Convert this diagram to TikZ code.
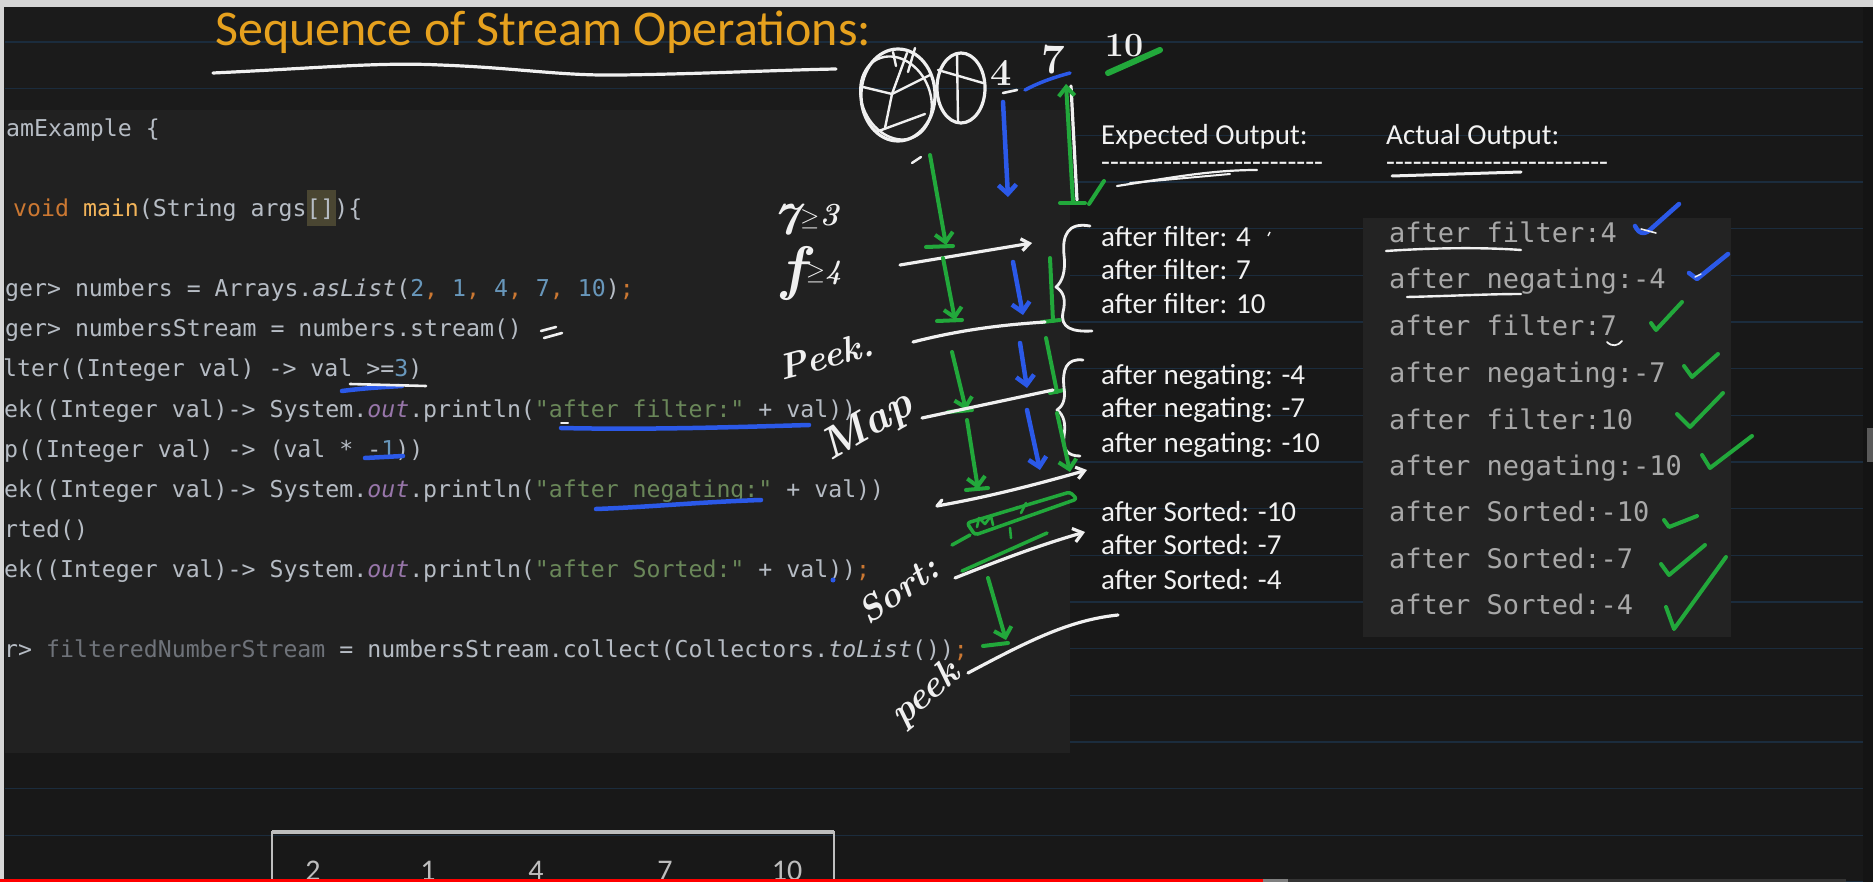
\documentclass[tikz,border=0pt]{standalone}
\usepackage{fontspec}
\setmonofont{DejaVu Sans Mono}
\newfontfamily\cali{Carlito}
\usetikzlibrary{arrows.meta}
\definecolor{bg}{HTML}{181818}
\definecolor{topbg}{HTML}{1B1B1B}
\definecolor{edgec}{HTML}{141414}
\definecolor{panel}{HTML}{212121}
\definecolor{outbox}{HTML}{232323}
\definecolor{nline}{HTML}{1B2C3D}
\definecolor{titlec}{HTML}{E6A11E}
\definecolor{codefg}{HTML}{B6BCC4}
\definecolor{kwc}{HTML}{CC7832}
\definecolor{methc}{HTML}{F2B45A}
\definecolor{numc}{HTML}{6897BB}
\definecolor{strc}{HTML}{6A8759}
\definecolor{fldc}{HTML}{9876AA}
\definecolor{unusedc}{HTML}{6F737A}
\definecolor{brk}{HTML}{4A4632}
\definecolor{hw}{HTML}{F0F0F0}
\definecolor{hg}{HTML}{22A83B}
\definecolor{hb}{HTML}{2B59E8}
\definecolor{outc}{HTML}{A8A8A8}
\definecolor{expc}{HTML}{F2F2F2}
\definecolor{boxw}{HTML}{BDBDBD}
\definecolor{topbar}{HTML}{D6D6D6}
\definecolor{redbar}{HTML}{FF0000}
\definecolor{thumb}{HTML}{5A5A5A}
\newcommand\kw[1]{\textcolor{kwc}{#1}}
\newcommand\cmeth[1]{\textcolor{methc}{#1}}
\newcommand\cnum[1]{\textcolor{numc}{#1}}
\newcommand\cstr[1]{\textcolor{strc}{#1}}
\newcommand\cfld[1]{\textcolor{fldc}{\textit{#1}}}
\newcommand\cunused[1]{\textcolor{unusedc}{#1}}
\newcommand\hyphs[1]{\foreach \i in {1,...,#1}{-\kern0pt}}
\tikzset{
  wpen/.style={draw=hw, line width=3.2pt, line cap=round, line join=round},
  gpen/.style={draw=hg, line width=4pt, line cap=round, line join=round},
  bpen/.style={draw=hb, line width=4.5pt, line cap=round, line join=round},
  hd/.style={-{Straight Barb[length=9pt,width=18pt]}},
  hdup/.style={{Straight Barb[length=9pt,width=16pt]}-},
  code/.style={anchor=base west, inner sep=0, text=codefg, font=\ttfamily\fontsize{23.2}{28}\selectfont},
  expo/.style={anchor=base west, inner sep=0, text=expc, font=\cali\fontsize{29}{33}\selectfont},
  acto/.style={anchor=base west, inner sep=0, text=outc, font=\ttfamily\fontsize{27}{32}\selectfont},
  hand/.style={inner sep=0, text=hw, font=\bfseries\itshape\fontsize{#1}{#1}\selectfont},
  handnum/.style={inner sep=0, text=hw, font=\bfseries\fontsize{#1}{#1}\selectfont},
  boxnum/.style={anchor=base, inner sep=0, text=boxw, font=\cali\fontsize{30}{34}\selectfont},
}
\begin{document}
\begin{tikzpicture}[x=1pt,y=-1pt]
\useasboundingbox (0,0) rectangle (1873,882);
% backgrounds
\fill[bg] (0,0) rectangle (1873,882);
\fill[topbg] (0,0) rectangle (1070,110);
\fill[edgec] (1863,0) rectangle (1873,882);
% notebook lines
\foreach \k in {0,...,18}{
  \draw[nline, line width=1.4pt] (5,{42+46.67*\k}) -- (1863,{42+46.67*\k});
}
% code panel and output box
\fill[panel] (5,110) rectangle (1070,753);
\fill[outbox] (1363,218) rectangle (1731,637);
% title
\node[anchor=base west, inner sep=0, text=titlec, font=\cali\fontsize{50}{54}\selectfont] (title) at (215,46) {Sequence of Stream Operations:};
\draw[wpen] (213,73) .. controls (320,68) and (380,62) .. (440,65) .. controls (520,68) and (560,76) .. (620,75) .. controls (700,74) and (780,70) .. (836,69);
% code
\fill[brk] (307,190) rectangle (336,226);
\node[code] (c1) at (6,137) {amExample \{};
\node[code] (c2) at (13,217) {\kw{void} \cmeth{main}(String args[])\{};
\node[code] (c3) at (5,297) {ger> numbers = Arrays.\textit{asList}(\cnum{2}\kw{,} \cnum{1}\kw{,} \cnum{4}\kw{,} \cnum{7}\kw{,} \cnum{10})\kw{;}};
\node[code] (c4) at (5,337) {ger> numbersStream = numbers.stream()};
\node[code] (c5) at (3,377) {lter((Integer val) -> val >=\cnum{3})};
\node[code] (c6) at (4,417) {ek((Integer val)-> System.\cfld{out}.println(\cstr{"after filter:"} + val))};
\node[code] (c7) at (4,457) {p((Integer val) -> (val * -\cnum{1}))};
\node[code] (c8) at (4,497) {ek((Integer val)-> System.\cfld{out}.println(\cstr{"after negating:"} + val))};
\node[code] (c9) at (4,537) {rted()};
\node[code] (c10) at (4,577) {ek((Integer val)-> System.\cfld{out}.println(\cstr{"after Sorted:"} + val))\kw{;}};
\node[code] (c11) at (4,657) {r> \cunused{filteredNumberStream} = numbersStream.collect(Collectors.\textit{toList}())\kw{;}};
% code annotations
\draw[wpen, line width=2.6pt] (541,331) -- (556,327);
\draw[wpen, line width=2.6pt] (544,338) -- (562,333);
\draw[bpen] (342,391) .. controls (365,388) and (385,387) .. (402,386);
\draw[wpen, line width=2.6pt] (350,384) -- (426,386);
\draw[bpen] (561,428) .. controls (650,430) and (740,427) .. (809,425);
\draw[wpen, line width=2pt] (561,423) -- (568,423);
\draw[bpen] (365,458) -- (403,456);
\draw[bpen] (596,509) .. controls (650,507) and (700,502) .. (761,500);
\fill[hb] (833,580) circle (2.5);
% expected output
\node[expo] (exph) at (1101,145) {Expected Output:};
\node[expo] (expd) at (1101,172) {\hyphs{25}};
\node[expo] (acth) at (1386,145) {Actual Output:};
\node[expo] (actd) at (1386,172) {\hyphs{25}};
\draw[wpen, line width=2.2pt] (1117,186) .. controls (1170,178) and (1210,170) .. (1257,170);
\draw[wpen, line width=2pt] (1130,183) -- (1230,174);
\draw[wpen, line width=3pt] (1392,176) -- (1521,172);
\node[expo] (e1) at (1101,247) {after filter: 4};
\node[expo] (e2) at (1101,280) {after filter: 7};
\node[expo] (e3) at (1101,314) {after filter: 10};
\node[expo] (e4) at (1101,384) {after negating: -4};
\node[expo] (e5) at (1101,417) {after negating: -7};
\node[expo] (e6) at (1101,452) {after negating: -10};
\node[expo] (e7) at (1101,521) {after Sorted: -10};
\node[expo] (e8) at (1101,554) {after Sorted: -7};
\node[expo] (e9) at (1101,589) {after Sorted: -4};
\draw[hw, line width=1.5pt] (1268,236) -- (1270,232);
% actual output
\node[acto] (a1) at (1389,243) {after filter:4};
\node[acto] (a2) at (1389,289) {after negating:-4};
\node[acto] (a3) at (1389,336) {after filter:7};
\node[acto] (a4) at (1389,382) {after negating:-7};
\node[acto] (a5) at (1389,429) {after filter:10};
\node[acto] (a6) at (1389,475) {after negating:-10};
\node[acto] (a7) at (1389,521) {after Sorted:-10};
\node[acto] (a8) at (1389,568) {after Sorted:-7};
\node[acto] (a9) at (1389,614) {after Sorted:-4};
\draw[wpen, line width=2.4pt] (1386,251) .. controls (1430,248) and (1480,247) .. (1521,250);
\draw[wpen, line width=2.4pt] (1407,297) .. controls (1450,296) and (1490,294) .. (1521,294);
\draw[wpen, line width=1.8pt] (1607,342) .. controls (1612,347) and (1618,346) .. (1622,341);
% ticks
\draw[bpen] (1635,226) .. controls (1640,236) and (1646,234) .. (1652,228) -- (1679,204);
\draw[wpen, line width=1.6pt] (1641,229) -- (1656,233);
\draw[bpen] (1689,273) -- (1697,279) -- (1728,254);
\draw[wpen, line width=1.4pt] (1695,277) -- (1701,274);
\draw[gpen] (1651,323) -- (1656,330) -- (1682,302);
\draw[gpen] (1684,366) -- (1692,377) -- (1718,354);
\draw[gpen] (1677,414) -- (1690,427) -- (1723,393);
\draw[gpen] (1702,455) -- (1710,468) -- (1752,436);
\draw[gpen] (1664,520) -- (1669,527) -- (1697,516);
\draw[gpen] (1661,564) -- (1669,575) -- (1705,545);
\draw[gpen] (1666,607) -- (1674,629) -- (1726,557);
% circles and numbers at top
\draw[wpen] (898,95) ellipse [x radius=37, y radius=46];
\draw[wpen, line width=2.4pt] (896,98) ellipse [x radius=34, y radius=43, rotate=25];
\draw[wpen, line width=2.4pt] (863,87) -- (892,94) -- (930,75);
\draw[wpen, line width=2.4pt] (892,94) -- (885,128);
\draw[wpen, line width=2.4pt] (892,94) -- (907,53);
\draw[wpen, line width=2.4pt] (876,132) -- (925,114);
\draw[wpen, line width=2.4pt] (893,52) -- (896,66);
\draw[wpen, line width=2.4pt] (915,48) -- (908,72);
\draw[wpen] (961,88) ellipse [x radius=24, y radius=35];
\draw[wpen, line width=2.4pt] (957,53) -- (958,122);
\draw[wpen, line width=2.4pt] (938,70) -- (983,83);
\node[handnum=38] (h4) at (1001,73) {4};
\node[handnum=42] (h7) at (1053,60) {7};
\node[handnum=34] (h10) at (1124,46) {10};
\draw[gpen, line width=6pt] (1108,73) -- (1160,50);
\draw[wpen, line width=2.6pt] (1003,93) -- (1017,90);
\draw[bpen, line width=3.5pt] (1025,90) .. controls (1040,82) and (1055,77) .. (1070,73);
% left handwriting
\node[hand=46] (hge3) at (806,220) {7\textsuperscript{$\geq$3}};
\node[hand=40] (hge4) at (812,274) {{\fontsize{60}{60}\selectfont f}\textsuperscript{$\geq$4}};
\node[hand=36, rotate=15] (hpeek) at (826,356) {Peek.};
\node[hand=44, rotate=30] (hmap) at (868,427) {Map};
\node[hand=36, rotate=35] (hsort) at (898,590) {Sort:};
\node[hand=38, rotate=40] (hpeek2) at (926,695) {peek};
% vertical arrows
\draw[bpen, hd] (1003,102) -- (1008,197);
\draw[wpen] (1071,86) -- (1077,200);
\draw[gpen, hdup] (1066,84) -- (1073,202);
\draw[gpen] (1060,203) -- (1085,203);
\draw[gpen] (1089,204) -- (1104,181);
\draw[gpen, hd] (930,155) -- (946,245);
\draw[gpen] (926,247) -- (953,246);
\draw[wpen, line width=2.4pt] (912,163) -- (921,157);
\draw[wpen, -{Straight Barb[length=8pt,width=12pt]}] (900,265) -- (1032,243);
\draw[gpen, hd] (943,258) -- (955,320);
\draw[gpen] (937,321) -- (962,320);
\draw[bpen, hd] (1013,262) -- (1023,315);
\draw[gpen] (1050,258) -- (1053,321);
\draw[gpen] (1042,322) -- (1060,320);
\draw[wpen] (913,342) .. controls (960,330) and (1000,325) .. (1045,322);
\draw[wpen, line width=2.8pt] (1090,226) .. controls (1068,222) and (1062,235) .. (1064,255) .. controls (1066,272) and (1062,282) .. (1056,287) .. controls (1064,292) and (1066,300) .. (1063,312) .. controls (1060,328) and (1072,332) .. (1092,331);
\draw[gpen, hd] (952,352) -- (966,410);
\draw[gpen] (948,412) -- (972,410);
\draw[bpen, hd] (1020,343) -- (1027,388);
\draw[gpen] (1046,338) -- (1057,392);
\draw[gpen] (1050,393) -- (1064,390);
\draw[wpen] (922,418) -- (1053,390);
\draw[wpen, line width=2.8pt] (1083,360) .. controls (1066,358) and (1062,370) .. (1064,388) .. controls (1066,400) and (1062,407) .. (1057,410) .. controls (1064,415) and (1066,424) .. (1064,436) .. controls (1062,450) and (1068,456) .. (1080,456);
\draw[gpen, hd] (967,420) -- (978,489);
\draw[gpen] (966,490) -- (988,488);
\draw[bpen, hd] (1027,410) -- (1040,470);
\draw[gpen, hd] (1057,413) -- (1070,472);
\draw[wpen, -{Straight Barb[length=8pt,width=12pt]}] (942,500) -- (937,506) .. controls (970,500) and (1010,492) .. (1087,470);
% sorted box
\draw[gpen, line width=3.5pt, rounded corners=3pt] (967,523) -- (1070,492) -- (1077,499) -- (975,535) -- cycle;
\draw[gpen, line width=3.5pt] (952,545) -- (970,535);
\draw[gpen, line width=2.6pt] (977,527) -- (979,518) -- (985,524) -- (991,516) -- (993,525);
\draw[gpen, line width=2.6pt] (1012,510) -- (1018,507);
\draw[gpen, line width=2.6pt] (1021,513) -- (1026,503);
\draw[gpen, line width=2.6pt] (1010,528) -- (1011,538);
\draw[gpen, line width=3.5pt] (962,571) -- (1047,533);
\draw[wpen, -{Straight Barb[length=9pt,width=14pt]}] (955,578) .. controls (1000,560) and (1040,545) .. (1085,532);
\draw[gpen, hd] (988,578) -- (1006,640);
\draw[gpen] (983,646) -- (1008,643);
\draw[wpen] (968,673) .. controls (1030,640) and (1070,620) .. (1118,615);
% bottom box
\draw[boxw, line width=1.5pt] (272,890) -- (272,832) -- (834,832) -- (834,890);
\draw[boxw, line width=3.5pt] (272,832) -- (834,832);
\node[boxnum] (n1) at (313,880) {2};
\node[boxnum] (n2) at (428,880) {1};
\node[boxnum] (n3) at (536,880) {4};
\node[boxnum] (n4) at (665,880) {7};
\node[boxnum] (n5) at (787,880) {10};
% screen chrome
\fill[topbar] (0,0) rectangle (1873,7);
\fill[topbar] (0,7) rectangle (4,882);
\fill[thumb] (1867,428) rectangle (1873,462);
\fill[redbar] (0,879) rectangle (1263,882);
\fill[gray] (1263,879) rectangle (1288,882);
\fill[edgec!70!gray] (1288,879) rectangle (1846,882);
\end{tikzpicture}
\end{document}
